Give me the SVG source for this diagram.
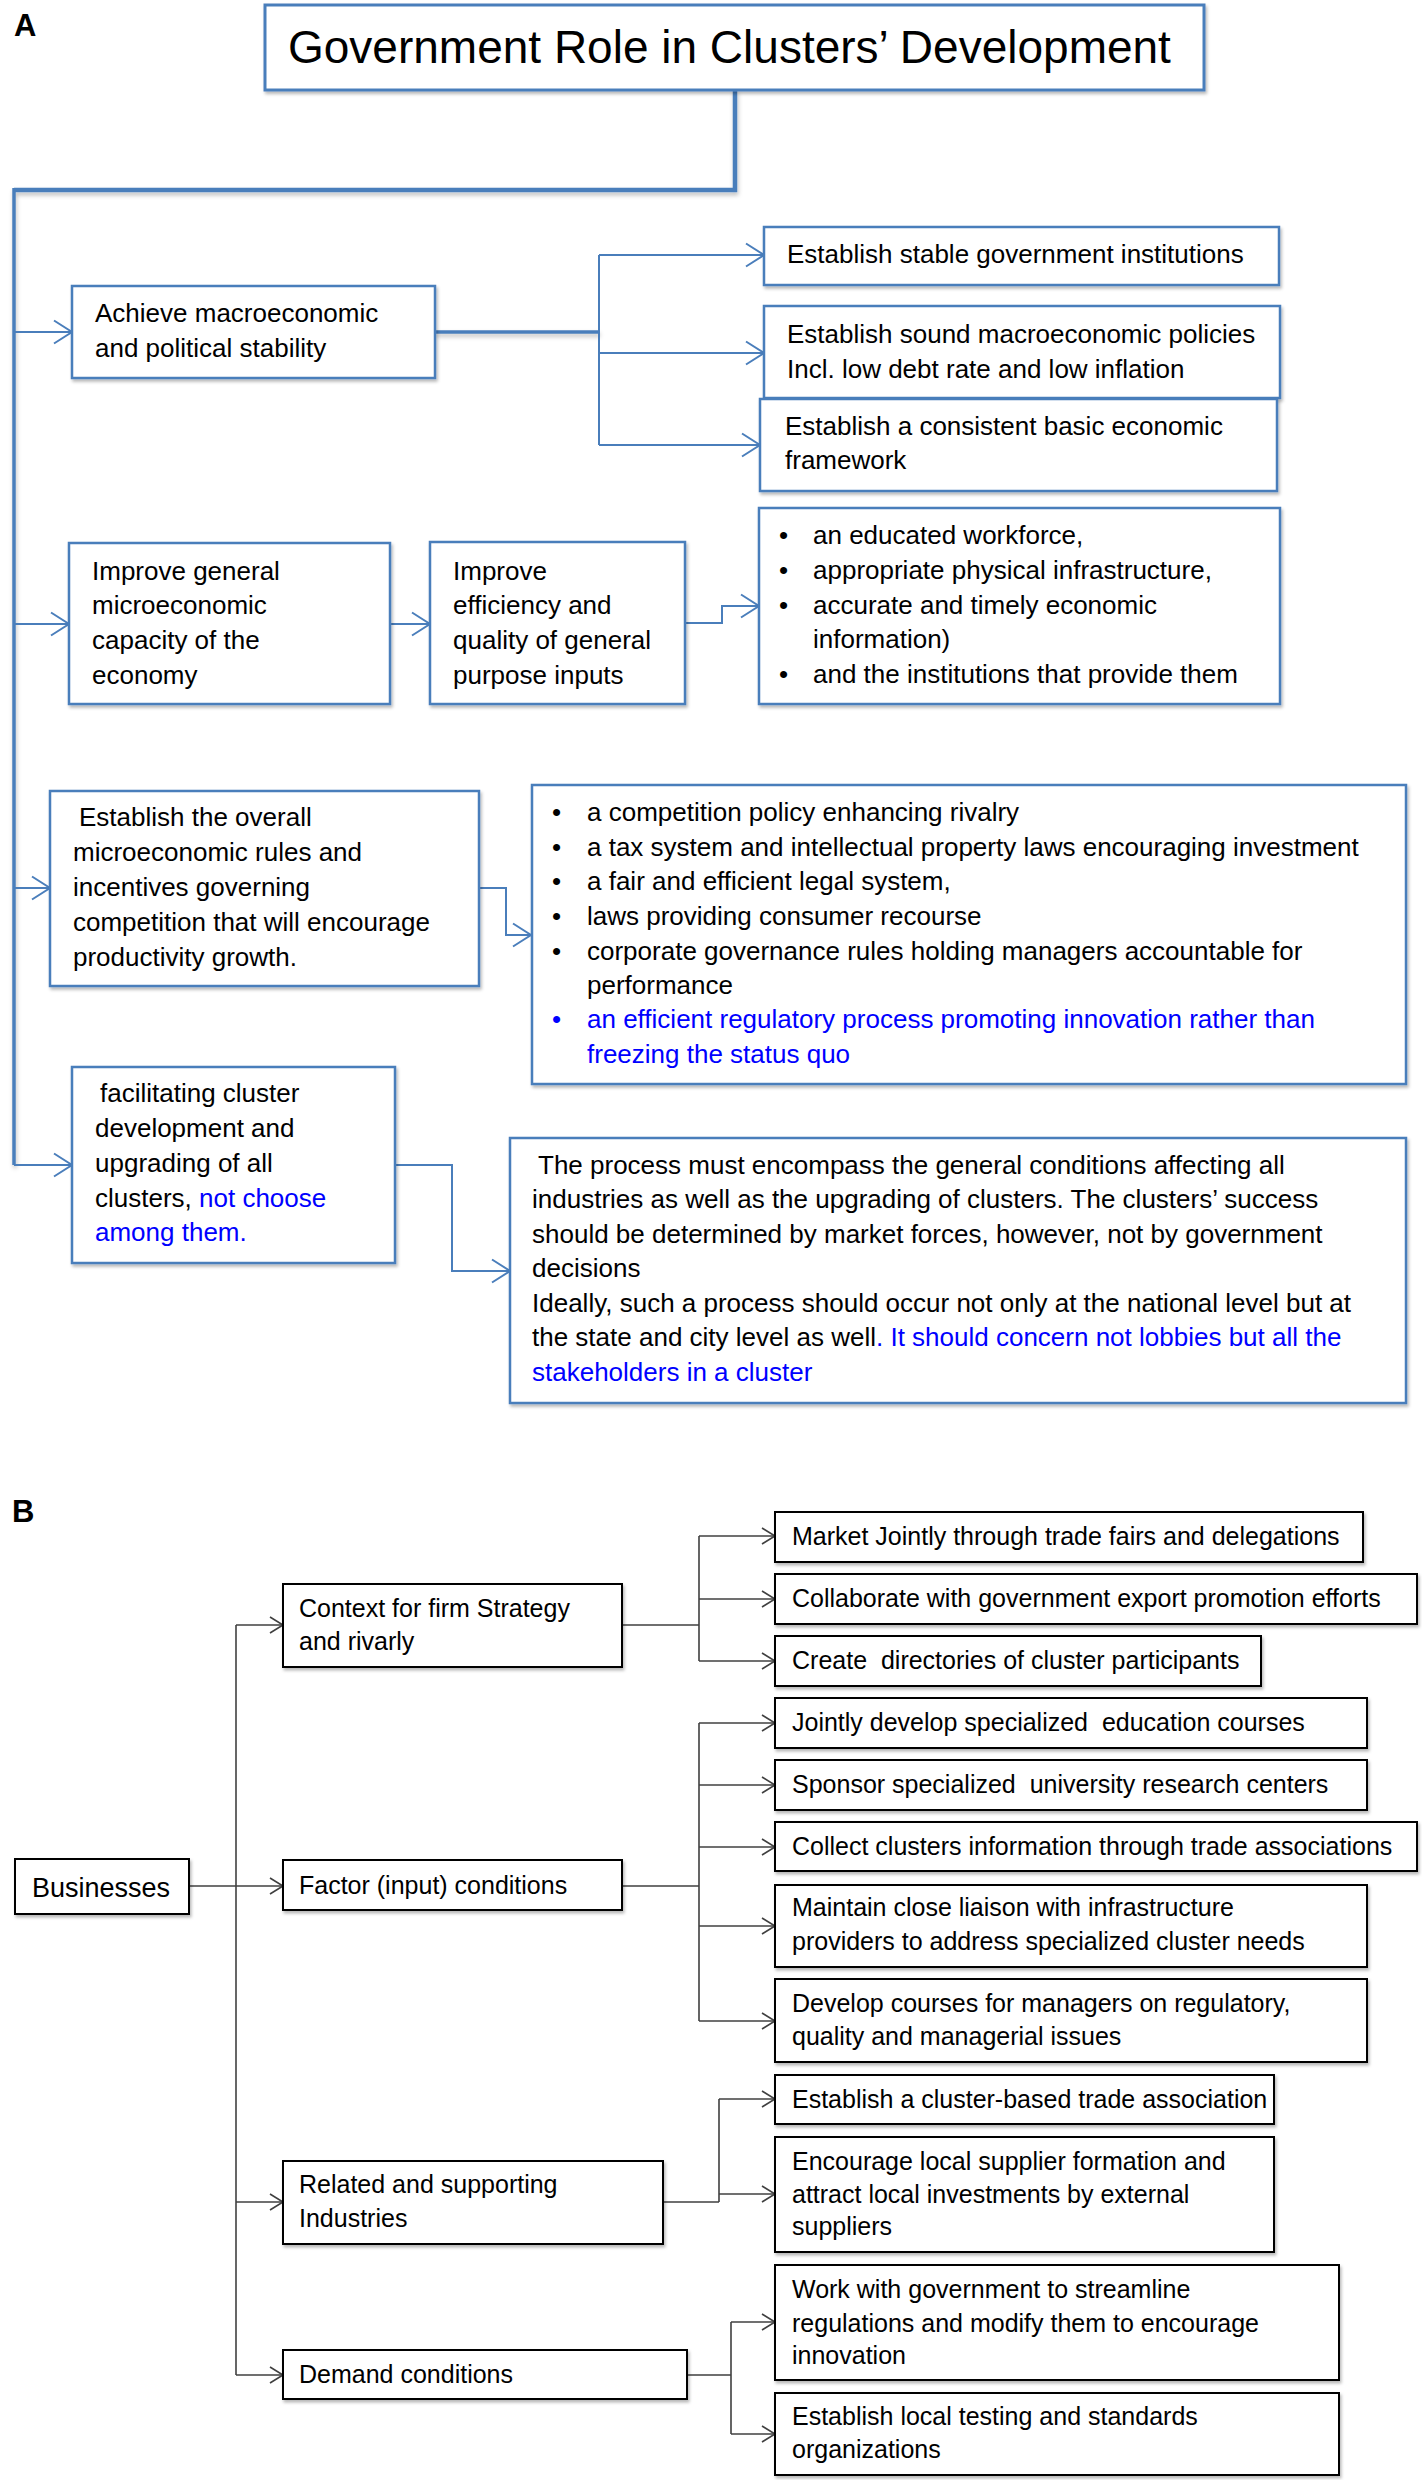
<svg xmlns="http://www.w3.org/2000/svg" width="1422" height="2480" viewBox="0 0 1422 2480">
<style>
text{font-family:"Liberation Sans",Arial,sans-serif;fill:#000}
.t{font-size:26px}
.b{font-size:25px}
.blue{fill:#0000FF}
.lbl{font-size:31px;font-weight:bold}
.ba{fill:#fff;stroke:#4A7EBB;stroke-width:2.5}
.bb{fill:#fff;stroke:#000;stroke-width:2}
.ca{fill:none;stroke:#4A7EBB;stroke-width:2}
.cb{fill:none;stroke:#404040;stroke-width:1.6}
</style>
<defs>
<filter id="sh" x="-10%" y="-10%" width="120%" height="130%">
<feDropShadow dx="1.5" dy="2.5" stdDeviation="1.5" flood-color="#000" flood-opacity="0.28"/>
</filter>
<filter id="shl" x="-5%" y="-50%" width="110%" height="300%">
<feDropShadow dx="1" dy="3" stdDeviation="2" flood-color="#000" flood-opacity="0.25"/>
</filter>
<marker id="ma" viewBox="0 0 24 28" markerWidth="24" markerHeight="28" refX="21" refY="14" orient="auto" markerUnits="userSpaceOnUse">
<path d="M3,2.5 L21,14 L3,25.5" fill="none" stroke="#4A7EBB" stroke-width="2"/>
</marker>
<marker id="mb" viewBox="0 0 18 20" markerWidth="18" markerHeight="20" refX="16" refY="10" orient="auto" markerUnits="userSpaceOnUse">
<path d="M3,2 L16,10 L3,18" fill="none" stroke="#404040" stroke-width="1.6"/>
</marker>
</defs>
<rect width="1422" height="2480" fill="#fff"/>

<text class="lbl" x="14" y="36">A</text>
<text class="lbl" x="12" y="1522">B</text>

<g id="connectors">
<g filter="url(#shl)">
<path class="ca" style="stroke-width:4.5" d="M735,90 V190 H14"/>
<path class="ca" style="stroke-width:3.5" d="M14,188 V1165"/>
<path class="ca" style="stroke-width:3.5" d="M435,332 H599"/>
</g>
<path class="ca" marker-end="url(#ma)" d="M14,332 H72"/>
<path class="ca" marker-end="url(#ma)" d="M14,624 H69"/>
<path class="ca" marker-end="url(#ma)" d="M14,888 H50"/>
<path class="ca" marker-end="url(#ma)" d="M14,1165 H72"/>
<path class="ca" d="M599,255 V445"/>
<path class="ca" marker-end="url(#ma)" d="M599,255 H764"/>
<path class="ca" marker-end="url(#ma)" d="M599,353 H764"/>
<path class="ca" marker-end="url(#ma)" d="M599,445 H760"/>
<path class="ca" marker-end="url(#ma)" d="M390,624 H430"/>
<path class="ca" marker-end="url(#ma)" d="M685,623 H722 V606 H759"/>
<path class="ca" marker-end="url(#ma)" d="M479,888 H506 V935 H531"/>
<path class="ca" marker-end="url(#ma)" d="M395,1165 H452 V1271 H510"/>

<path class="cb" marker-end="url(#mb)" d="M189,1886 H283"/>
<path class="cb" d="M236,1625 V2375"/>
<path class="cb" marker-end="url(#mb)" d="M236,1625 H283"/>
<path class="cb" marker-end="url(#mb)" d="M236,2202 H283"/>
<path class="cb" marker-end="url(#mb)" d="M236,2375 H283"/>
<path class="cb" d="M622,1625 H699 M699,1536 V1661"/>
<path class="cb" marker-end="url(#mb)" d="M699,1536 H775"/>
<path class="cb" marker-end="url(#mb)" d="M699,1599 H775"/>
<path class="cb" marker-end="url(#mb)" d="M699,1661 H775"/>
<path class="cb" d="M622,1886 H699 M699,1723 V2021"/>
<path class="cb" marker-end="url(#mb)" d="M699,1723 H775"/>
<path class="cb" marker-end="url(#mb)" d="M699,1785 H775"/>
<path class="cb" marker-end="url(#mb)" d="M699,1847 H775"/>
<path class="cb" marker-end="url(#mb)" d="M699,1926 H775"/>
<path class="cb" marker-end="url(#mb)" d="M699,2021 H775"/>
<path class="cb" d="M663,2202 H719 M719,2099 V2202"/>
<path class="cb" marker-end="url(#mb)" d="M719,2099 H775"/>
<path class="cb" marker-end="url(#mb)" d="M719,2194 H775"/>
<path class="cb" d="M687,2375 H731 M731,2322 V2434"/>
<path class="cb" marker-end="url(#mb)" d="M731,2322 H775"/>
<path class="cb" marker-end="url(#mb)" d="M731,2434 H775"/>
</g>

<g id="title">
<rect class="ba" x="265" y="5" width="939" height="85" filter="url(#sh)" style="stroke-width:3"/>
<text x="288" y="63" style="font-size:46px">Government Role in Clusters’ Development</text>
</g>

<g id="macro">
<rect class="ba" x="72" y="286" width="363" height="92" filter="url(#sh)"/>
<text class="t" x="95" y="322">Achieve macroeconomic</text>
<text class="t" x="95" y="357">and political stability</text>
</g>
<g id="institutions">
<rect class="ba" x="764" y="227" width="515" height="58" filter="url(#sh)"/>
<text class="t" x="787" y="263">Establish stable government institutions</text>
</g>
<g id="policies">
<rect class="ba" x="764" y="306" width="516" height="92" filter="url(#sh)"/>
<text class="t" x="787" y="343">Establish sound macroeconomic policies</text>
<text class="t" x="787" y="378">Incl. low debt rate and low inflation</text>
</g>
<g id="framework">
<rect class="ba" x="760" y="399" width="517" height="92" filter="url(#sh)"/>
<text class="t" x="785" y="435">Establish a consistent basic economic</text>
<text class="t" x="785" y="469">framework</text>
</g>

<g id="micro">
<rect class="ba" x="69" y="543" width="321" height="161" filter="url(#sh)"/>
<text class="t" x="92" y="580">Improve general</text>
<text class="t" x="92" y="614">microeconomic</text>
<text class="t" x="92" y="649">capacity of the</text>
<text class="t" x="92" y="684">economy</text>
</g>
<g id="inputs">
<rect class="ba" x="430" y="542" width="255" height="162" filter="url(#sh)"/>
<text class="t" x="453" y="580">Improve</text>
<text class="t" x="453" y="614">efficiency and</text>
<text class="t" x="453" y="649">quality of general</text>
<text class="t" x="453" y="684">purpose inputs</text>
</g>
<g id="inputs-list">
<rect class="ba" x="759" y="508" width="521" height="196" filter="url(#sh)"/>
<text class="t" x="779" y="544">•</text><text class="t" x="813" y="544">an educated workforce,</text>
<text class="t" x="779" y="579">•</text><text class="t" x="813" y="579">appropriate physical infrastructure,</text>
<text class="t" x="779" y="614">•</text><text class="t" x="813" y="614">accurate and timely economic</text>
<text class="t" x="813" y="648">information)</text>
<text class="t" x="779" y="683">•</text><text class="t" x="813" y="683">and the institutions that provide them</text>
</g>

<g id="rules">
<rect class="ba" x="50" y="791" width="429" height="195" filter="url(#sh)"/>
<text class="t" x="79" y="826">Establish the overall</text>
<text class="t" x="73" y="861">microeconomic rules and</text>
<text class="t" x="73" y="896">incentives governing</text>
<text class="t" x="73" y="931">competition that will encourage</text>
<text class="t" x="73" y="966">productivity growth.</text>
</g>
<g id="rules-list">
<rect class="ba" x="532" y="785" width="874" height="299" filter="url(#sh)"/>
<text class="t" x="552" y="821">•</text><text class="t" x="587" y="821">a competition policy enhancing rivalry</text>
<text class="t" x="552" y="856">•</text><text class="t" x="587" y="856">a tax system and intellectual property laws encouraging investment</text>
<text class="t" x="552" y="890">•</text><text class="t" x="587" y="890">a fair and efficient legal system,</text>
<text class="t" x="552" y="925">•</text><text class="t" x="587" y="925">laws providing consumer recourse</text>
<text class="t" x="552" y="960">•</text><text class="t" x="587" y="960">corporate governance rules holding managers accountable for</text>
<text class="t" x="587" y="994">performance</text>
<text class="t blue" x="552" y="1028">•</text><text class="t blue" x="587" y="1028">an efficient regulatory process promoting innovation rather than</text>
<text class="t blue" x="587" y="1063">freezing the status quo</text>
</g>

<g id="facilitating">
<rect class="ba" x="72" y="1067" width="323" height="196" filter="url(#sh)"/>
<text class="t" x="100" y="1102">facilitating cluster</text>
<text class="t" x="95" y="1137">development and</text>
<text class="t" x="95" y="1172">upgrading of all</text>
<text class="t" x="95" y="1207">clusters, <tspan class="blue">not choose</tspan></text>
<text class="t blue" x="95" y="1241">among them.</text>
</g>
<g id="process">
<rect class="ba" x="510" y="1138" width="896" height="265" filter="url(#sh)"/>
<text class="t" x="538" y="1174">The process must encompass the general conditions affecting all</text>
<text class="t" x="532" y="1208">industries as well as the upgrading of clusters. The clusters’ success</text>
<text class="t" x="532" y="1243">should be determined by market forces, however, not by government</text>
<text class="t" x="532" y="1277">decisions</text>
<text class="t" x="532" y="1312">Ideally, such a process should occur not only at the national level but at</text>
<text class="t" x="532" y="1346">the state and city level as well<tspan class="blue">. It should concern not lobbies but all the</tspan></text>
<text class="t blue" x="532" y="1381">stakeholders in a cluster</text>
</g>

<g id="businesses">
<rect class="bb" x="15" y="1859" width="174" height="55" filter="url(#sh)"/>
<text class="b" x="32" y="1897" style="font-size:27px">Businesses</text>
</g>
<g id="context">
<rect class="bb" x="283" y="1584" width="339" height="83" filter="url(#sh)"/>
<text class="b" x="299" y="1617">Context for firm Strategy</text>
<text class="b" x="299" y="1650">and rivarly</text>
</g>
<g id="factor">
<rect class="bb" x="283" y="1860" width="339" height="50" filter="url(#sh)"/>
<text class="b" x="299" y="1894">Factor (input) conditions</text>
</g>
<g id="related">
<rect class="bb" x="283" y="2161" width="380" height="83" filter="url(#sh)"/>
<text class="b" x="299" y="2193">Related and supporting</text>
<text class="b" x="299" y="2227">Industries</text>
</g>
<g id="demand">
<rect class="bb" x="283" y="2350" width="404" height="49" filter="url(#sh)"/>
<text class="b" x="299" y="2383">Demand conditions</text>
</g>

<g id="market">
<rect class="bb" x="775" y="1512" width="588" height="50" filter="url(#sh)"/>
<text class="b" x="792" y="1545">Market Jointly through trade fairs and delegations</text>
</g>
<g id="export">
<rect class="bb" x="775" y="1574" width="642" height="50" filter="url(#sh)"/>
<text class="b" x="792" y="1607">Collaborate with government export promotion efforts</text>
</g>
<g id="directories">
<rect class="bb" x="775" y="1636" width="486" height="50" filter="url(#sh)"/>
<text class="b" x="792" y="1669" xml:space="preserve">Create  directories of cluster participants</text>
</g>
<g id="education">
<rect class="bb" x="775" y="1698" width="592" height="50" filter="url(#sh)"/>
<text class="b" x="792" y="1731" xml:space="preserve">Jointly develop specialized  education courses</text>
</g>
<g id="research">
<rect class="bb" x="775" y="1760" width="592" height="50" filter="url(#sh)"/>
<text class="b" x="792" y="1793" xml:space="preserve">Sponsor specialized  university research centers</text>
</g>
<g id="information">
<rect class="bb" x="775" y="1822" width="642" height="49" filter="url(#sh)"/>
<text class="b" x="792" y="1855">Collect clusters information through trade associations</text>
</g>
<g id="infrastructure">
<rect class="bb" x="775" y="1885" width="592" height="82" filter="url(#sh)"/>
<text class="b" x="792" y="1916">Maintain close liaison with infrastructure</text>
<text class="b" x="792" y="1950">providers to address specialized cluster needs</text>
</g>
<g id="courses">
<rect class="bb" x="775" y="1979" width="592" height="83" filter="url(#sh)"/>
<text class="b" x="792" y="2012">Develop courses for managers on regulatory,</text>
<text class="b" x="792" y="2045">quality and managerial issues</text>
</g>
<g id="association">
<rect class="bb" x="775" y="2075" width="499" height="49" filter="url(#sh)"/>
<text class="b" x="792" y="2108">Establish a cluster-based trade association</text>
</g>
<g id="suppliers">
<rect class="bb" x="775" y="2137" width="499" height="115" filter="url(#sh)"/>
<text class="b" x="792" y="2170">Encourage local supplier formation and</text>
<text class="b" x="792" y="2203">attract local investments by external</text>
<text class="b" x="792" y="2235">suppliers</text>
</g>
<g id="regulations">
<rect class="bb" x="775" y="2265" width="564" height="115" filter="url(#sh)"/>
<text class="b" x="792" y="2298">Work with government to streamline</text>
<text class="b" x="792" y="2332">regulations and modify them to encourage</text>
<text class="b" x="792" y="2364">innovation</text>
</g>
<g id="testing">
<rect class="bb" x="775" y="2393" width="564" height="82" filter="url(#sh)"/>
<text class="b" x="792" y="2425">Establish local testing and standards</text>
<text class="b" x="792" y="2458">organizations</text>
</g>
</svg>
